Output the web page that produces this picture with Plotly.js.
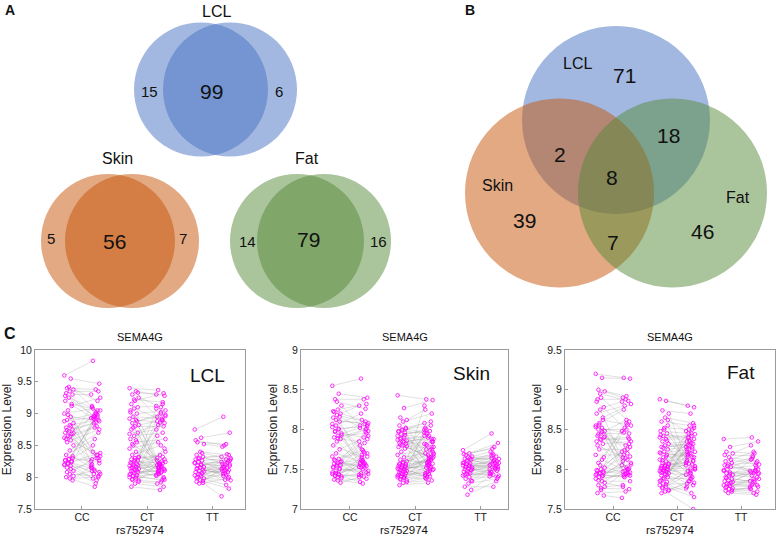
<!DOCTYPE html>
<html><head><meta charset="utf-8">
<script src="https://cdn.plot.ly/plotly-3.0.1.min.js"></script>
<style>html,body{margin:0;padding:0;background:#fff;}#chart{width:777px;height:537px;}</style>
</head><body><div id="chart"></div>
<script>
// ---------- Panel A: pairwise Venn counts ----------
const vennA_LCL = [15, 99, 6];
const vennA_Skin = [5, 56, 7];
const vennA_Fat = [14, 79, 16];
const tissueNames = ['LCL', 'Skin', 'Fat'];
// ---------- Panel B: three-way Venn counts ----------
const vennB_LCLonly = 71, vennB_SkinOnly = 39, vennB_FatOnly = 46;
const vennB_LCL_Skin = 2, vennB_LCL_Fat = 18, vennB_Skin_Fat = 7, vennB_All = 8;
// ---------- Panel C: SEMA4G expression (paired replicates) ----------
const genotypes = ['CC', 'CT', 'TT'];
const LCL_CC_A = [9.60,9.55,9.40,9.38,9.35,9.32,9.30,9.25,9.20,9.12,9.05,9.00,8.95,8.90,8.85,8.82,8.78,8.75,8.72,8.70,8.68,8.65,8.62,8.58,8.55,8.50,8.42,8.35,8.30,8.28,8.26,8.24,8.22,8.20,8.18,8.15,8.10,8.05,8.00,7.95,
  9.42,9.28,9.15,8.98,8.88,8.80,8.74,8.69,8.64,8.60,8.33,8.29,8.27,8.25,8.21,8.19,8.13,8.08,8.02,7.98];
const LCL_CC_B = [9.83,9.47,9.38,9.10,9.35,8.95,9.30,9.05,8.92,9.25,8.30,9.08,8.88,9.00,8.20,8.90,8.10,8.93,8.35,8.85,8.05,8.80,8.40,8.75,9.02,8.15,8.70,8.60,8.25,8.98,8.12,8.33,7.95,8.50,8.08,7.90,8.28,8.02,7.85,8.18,
  9.20,8.96,9.05,8.35,8.94,8.22,8.86,9.12,8.30,8.78,8.15,8.95,8.05,8.38,9.00,7.98,8.26,8.92,8.10,8.00];
const LCL_CT_A = [9.40,9.35,9.30,9.25,9.20,9.15,9.10,9.08,9.05,9.00,8.95,8.92,8.90,8.85,8.82,8.80,8.75,8.70,8.65,8.60,8.55,8.50,8.45,8.40,8.35,8.32,8.30,8.28,8.26,8.25,8.23,8.21,8.20,8.18,8.16,8.15,8.13,8.12,8.10,8.08,8.06,8.05,8.03,8.02,8.00,7.98,7.96,7.95,7.90,7.85,
  9.33,9.22,9.02,8.88,8.78,8.68,8.58,8.52,8.31,8.27,8.22,8.19,8.17,8.14,8.11,8.09,8.04,8.01,7.97,7.93];
const LCL_CT_B = [9.37,9.28,9.10,8.95,9.32,8.20,9.12,8.90,8.15,9.05,8.92,8.10,8.85,9.00,8.88,8.80,8.18,8.75,8.70,8.05,8.60,8.25,8.55,8.12,8.50,8.30,8.00,8.35,9.08,8.22,8.14,8.40,8.90,8.08,8.28,8.16,8.65,7.98,8.20,8.02,9.15,8.11,8.24,7.95,8.06,8.45,7.92,8.19,7.85,7.80,
  9.30,9.18,8.22,8.98,8.17,8.82,8.10,9.02,8.26,8.13,8.86,8.04,8.32,8.21,8.96,8.09,8.15,7.96,8.07,7.90];
const LCL_TT_A = [8.75,8.62,8.55,8.52,8.40,8.35,8.32,8.30,8.28,8.26,8.24,8.22,8.20,8.18,8.16,8.15,8.13,8.12,8.10,8.08,8.06,8.05,8.03,8.02,8.00,7.98,7.95,7.93,7.91,7.90,
  8.58,8.38,8.29,8.23,8.19,8.14,8.09,8.04,7.99,7.94];
const LCL_TT_B = [8.95,8.70,8.52,8.48,8.35,8.20,8.32,8.25,8.10,8.30,8.22,8.05,8.18,8.28,8.15,8.00,8.12,8.24,8.08,8.16,7.95,8.14,8.02,8.20,7.88,8.10,7.82,8.06,7.70,7.98,
  8.50,8.28,8.36,8.17,8.26,8.04,8.21,8.11,7.96,8.13];
const Skin_CC_A = [8.55,8.45,8.38,8.30,8.25,8.22,8.20,8.18,8.15,8.10,8.05,8.03,8.00,7.98,7.95,7.92,7.90,7.88,7.85,7.80,7.75,7.70,7.66,7.63,7.61,7.60,7.58,7.57,7.55,7.54,7.52,7.50,7.45,7.44,7.43,7.42,7.41,7.40,7.37,7.33,
  8.35,8.23,8.16,8.12,8.07,8.01,7.97,7.93,7.89,7.62,7.59,7.56,7.53,7.51,7.48,7.46,7.44,7.42,7.39,7.36];
const Skin_CC_B = [8.64,8.40,8.38,8.05,8.32,7.60,8.30,8.10,7.75,8.08,7.70,8.20,8.06,7.55,8.02,7.95,7.50,7.85,8.00,7.65,7.92,7.58,7.45,7.88,7.72,7.80,7.54,7.62,7.43,7.56,7.68,7.48,7.52,7.42,7.66,7.57,7.34,7.46,7.32,7.40,
  8.26,8.12,7.98,8.07,7.62,8.04,7.90,7.56,8.01,7.74,7.53,7.97,7.60,7.44,7.83,7.52,7.70,7.41,7.58,7.38];
const Skin_CT_A = [8.43,8.27,8.15,8.12,8.10,8.05,8.02,8.00,7.98,7.96,7.94,7.92,7.90,7.88,7.86,7.85,7.83,7.82,7.80,7.78,7.76,7.72,7.68,7.65,7.62,7.60,7.58,7.57,7.56,7.55,7.54,7.53,7.52,7.51,7.50,7.49,7.48,7.47,7.46,7.45,7.44,7.43,7.42,7.41,7.40,7.39,7.38,7.36,7.33,7.30,
  8.01,7.99,7.97,7.93,7.89,7.87,7.84,7.81,7.79,7.59,7.56,7.54,7.52,7.50,7.48,7.45,7.42,7.40,7.37,7.34];
const Skin_CT_B = [8.38,8.37,7.60,8.25,8.20,7.55,8.08,8.05,7.95,7.50,7.98,8.00,7.85,7.92,7.45,7.88,7.90,7.82,7.65,7.80,7.78,7.48,7.75,7.72,7.58,7.70,7.85,7.68,8.30,7.62,7.40,7.66,7.52,7.95,7.64,7.56,7.43,7.75,7.60,8.00,7.53,7.46,7.70,7.50,7.38,7.57,7.44,7.42,7.36,7.33,
  7.96,8.10,7.58,7.88,7.74,7.52,7.84,7.66,8.02,7.78,7.47,7.92,7.62,7.55,7.69,7.41,7.81,7.49,7.63,7.39];
const Skin_TT_A = [7.74,7.70,7.68,7.66,7.65,7.63,7.62,7.60,7.58,7.57,7.56,7.55,7.54,7.53,7.52,7.51,7.50,7.49,7.48,7.47,7.45,7.44,7.42,7.40,7.38,7.35,7.32,7.28,7.24,7.18,
  7.69,7.64,7.61,7.58,7.55,7.53,7.50,7.46,7.43,7.36];
const Skin_TT_B = [7.95,7.83,7.78,7.72,7.60,7.68,7.55,7.66,7.70,7.58,7.52,7.64,7.50,7.62,7.56,7.48,7.60,7.45,7.54,7.57,7.42,7.50,7.46,7.40,7.52,7.44,7.38,7.28,7.41,7.35,
  7.76,7.63,7.58,7.67,7.53,7.61,7.47,7.56,7.43,7.50];
const Fat_CC_A = [9.20,9.15,9.00,8.98,8.90,8.88,8.78,8.75,8.70,8.62,8.58,8.55,8.52,8.50,8.48,8.45,8.42,8.40,8.38,8.35,8.32,8.25,8.18,8.12,8.08,8.02,8.00,7.98,7.96,7.95,7.94,7.92,7.90,7.88,7.85,7.80,7.78,7.76,7.70,7.67,
  8.95,8.85,8.65,8.56,8.53,8.47,8.44,8.41,8.37,8.30,8.15,8.05,7.99,7.97,7.95,7.93,7.91,7.86,7.83,7.74];
const Fat_CC_B = [9.15,9.14,8.92,8.90,8.60,8.88,8.85,7.95,8.80,8.55,8.20,8.75,7.92,8.50,8.10,8.45,8.30,8.05,8.40,7.98,8.35,8.25,8.18,7.96,8.58,8.15,8.32,7.94,8.22,8.00,7.90,8.08,8.12,7.93,7.85,8.02,7.80,7.75,7.72,7.64,
  8.86,8.52,8.82,8.00,8.46,8.28,8.62,7.97,8.38,8.14,8.48,7.93,8.24,8.06,8.56,7.91,8.16,7.95,7.78,8.01];
const Fat_CT_A = [8.88,8.86,8.74,8.70,8.65,8.60,8.55,8.52,8.48,8.45,8.42,8.40,8.38,8.35,8.32,8.30,8.28,8.25,8.22,8.20,8.18,8.15,8.12,8.10,8.08,8.06,8.05,8.04,8.03,8.02,8.01,8.00,7.99,7.98,7.97,7.96,7.95,7.94,7.92,7.90,7.88,7.86,7.84,7.82,7.80,7.78,7.76,7.74,7.72,7.70,
  8.62,8.50,8.43,8.36,8.27,8.21,8.16,8.11,8.07,8.04,8.02,8.00,7.98,7.96,7.93,7.89,7.85,7.81,7.77,7.73];
const Fat_CT_B = [8.80,8.78,8.70,8.10,8.58,8.55,8.05,8.50,8.45,8.00,8.42,8.40,8.38,7.95,8.35,8.32,8.30,8.28,7.90,8.25,8.22,8.20,8.18,8.15,7.88,8.12,8.10,8.35,8.08,8.06,7.85,8.02,8.45,7.98,8.55,7.92,8.25,7.80,8.20,7.76,8.15,8.50,8.00,7.70,8.30,7.65,7.95,7.82,7.50,7.85,
  8.48,8.26,8.40,8.04,8.33,8.16,8.52,7.98,8.22,8.11,8.36,7.93,8.28,8.07,8.44,7.88,8.19,7.83,8.01,7.78];
const Fat_TT_A = [8.38,8.28,8.22,8.20,8.15,8.10,8.08,8.06,8.05,8.03,8.00,7.98,7.96,7.95,7.93,7.92,7.90,7.88,7.86,7.85,7.83,7.82,7.80,7.79,7.78,7.76,7.75,7.73,7.72,7.70,
  8.18,8.12,8.04,7.99,7.94,7.89,7.84,7.81,7.77,7.74];
const Fat_TT_B = [8.40,8.35,8.20,8.30,8.10,8.22,7.98,8.08,8.15,7.95,8.05,7.92,8.00,7.97,8.12,7.90,7.95,7.85,8.02,7.82,7.88,7.98,7.80,7.78,7.86,7.75,7.72,7.70,7.78,7.68,
  8.17,8.06,7.99,8.13,7.94,7.84,7.96,7.80,7.88,7.76];
const snpName = 'rs752974', geneName = 'SEMA4G', yTitle = 'Expression Level';

// ---------- layout helpers (pixels -> paper) ----------
const W = 777, H = 537;
const FONT = 'Liberation Sans, Arial, sans-serif';
const px = x => x / W, py = y => 1 - y / H;
const shapes = [], annotations = [];
function circle(cx, cy, r, fill) {
  shapes.push({type: 'circle', xref: 'paper', yref: 'paper', x0: px(cx - r), x1: px(cx + r), y0: py(cy + r), y1: py(cy - r),
    fillcolor: fill, opacity: 0.5, line: {width: 0}, layer: 'below'});
}
function label(x, y, text, size, bold, pad) {
  annotations.push({xref: 'paper', yref: 'paper', x: px(x), y: py(y), text: bold ? '<b>' + text + '</b>' : text,
    showarrow: false, xanchor: 'center', yanchor: 'middle', borderpad: pad === undefined ? 1 : pad,
    font: {family: FONT, size: size, color: '#111'}});
}
const BLUE = 'rgb(69,113,193)', ORANGE = 'rgb(197,83,8)', GREEN = 'rgb(85,137,55)';

// Panel A
circle(201, 89.5, 67, BLUE); circle(230, 89.5, 67, BLUE);
circle(108, 241, 67, ORANGE); circle(132, 241, 67, ORANGE);
circle(297, 241, 67, GREEN); circle(324, 241, 67, GREEN);
label(217, 11, tissueNames[0], 16); label(117, 159, tissueNames[1], 16); label(307, 159, tissueNames[2], 16);
label(149, 91, vennA_LCL[0], 15); label(211, 91, vennA_LCL[1], 21); label(279, 91, vennA_LCL[2], 15);
label(51, 238, vennA_Skin[0], 15); label(114, 241, vennA_Skin[1], 21); label(183, 238, vennA_Skin[2], 15);
label(247, 241, vennA_Fat[0], 15); label(308, 240, vennA_Fat[1], 21); label(378, 241, vennA_Fat[2], 15);
label(10, 10, 'A', 14, true);

// Panel B
circle(616, 120, 94, BLUE); circle(559.5, 193, 94.5, ORANGE); circle(672.5, 193, 94.5, GREEN);
label(577, 64, tissueNames[0], 16); label(497, 186, tissueNames[1], 16); label(738, 198, tissueNames[2], 16);
label(624, 76, vennB_LCLonly, 21); label(524, 220, vennB_SkinOnly, 21); label(702, 231, vennB_FatOnly, 21);
label(560, 154, vennB_LCL_Skin, 21); label(668, 135, vennB_LCL_Fat, 21); label(613, 242, vennB_Skin_Fat, 21);
label(612, 177, vennB_All, 21);
label(470, 10, 'B', 14, true);
label(10, 333, 'C', 16, true);

// Panel C
const panels = [
  {name: 'LCL', groups: [[LCL_CC_A, LCL_CC_B], [LCL_CT_A, LCL_CT_B], [LCL_TT_A, LCL_TT_B]], yr: [7.5, 10], xr: [0.28, 3.5], xd: [35, 245], lab: [207, 375]},
  {name: 'Skin', groups: [[Skin_CC_A, Skin_CC_B], [Skin_CT_A, Skin_CT_B], [Skin_TT_A, Skin_TT_B]], yr: [7, 9], xr: [0.25, 3.42], xd: [301, 508], lab: [471, 373]},
  {name: 'Fat', groups: [[Fat_CC_A, Fat_CC_B], [Fat_CT_A, Fat_CT_B], [Fat_TT_A, Fat_TT_B]], yr: [7.5, 9.5], xr: [0.25, 3.53], xd: [565, 775], lab: [741, 372]}
];
const traces = [];
const layout = {width: W, height: H, margin: {l: 0, r: 0, t: 0, b: 0}, paper_bgcolor: '#fff', plot_bgcolor: '#fff',
  showlegend: false, font: {family: FONT, color: '#222'}, shapes: shapes, annotations: annotations};
const jit = i => (((i * 7) % 11) / 10 - 0.5) * 0.14;
panels.forEach((p, k) => {
  const n = k + 1, xa = 'x' + n, ya = 'y' + n;
  const lx = [], ly = [], mx = [], my = [];
  p.groups.forEach((g, gi) => {
    const c = gi + 1;
    g[0].forEach((v, i) => {
      const x0 = c - 0.2 + jit(i), x1 = c + 0.21 + jit(i + 5);
      lx.push(x0, x1, null); ly.push(v, g[1][i], null);
      mx.push(x0, x1); my.push(v, g[1][i]);
    });
  });
  traces.push({type: 'scatter', mode: 'lines', x: lx, y: ly, xaxis: xa, yaxis: ya, line: {color: 'rgba(150,150,150,0.5)', width: 0.6}, hoverinfo: 'skip'});
  traces.push({type: 'scatter', mode: 'markers', x: mx, y: my, xaxis: xa, yaxis: ya,
    marker: {symbol: 'circle-open', size: 3.6, color: '#ff00ff', line: {width: 0.8, color: '#ff00ff'}}});
  const ax = {showline: true, mirror: true, linecolor: '#9a9a9a', linewidth: 1, ticks: 'inside', ticklen: 3, tickcolor: '#9a9a9a',
    showgrid: false, zeroline: false, tickfont: {family: FONT, size: 10.5, color: '#222'}};
  layout['xaxis' + n] = Object.assign({}, ax, {domain: [px(p.xd[0]), px(p.xd[1])], range: p.xr, anchor: ya,
    tickvals: [1, 2, 3], ticktext: genotypes, ticklabelstandoff: -2});
  layout['yaxis' + n] = Object.assign({}, ax, {domain: [py(509), py(350)], range: p.yr, anchor: xa, dtick: 0.5,
    title: {text: yTitle, font: {family: FONT, size: 12, color: '#222'}, standoff: 3}});
  label((p.xd[0] + p.xd[1]) / 2, 337, geneName, 11);
  label((p.xd[0] + p.xd[1]) / 2, 530, snpName, 11.5, false, 0);
  label(p.lab[0], p.lab[1], p.name, 19);
});
Plotly.newPlot('chart', traces, layout, {staticPlot: true});
</script></body></html>
